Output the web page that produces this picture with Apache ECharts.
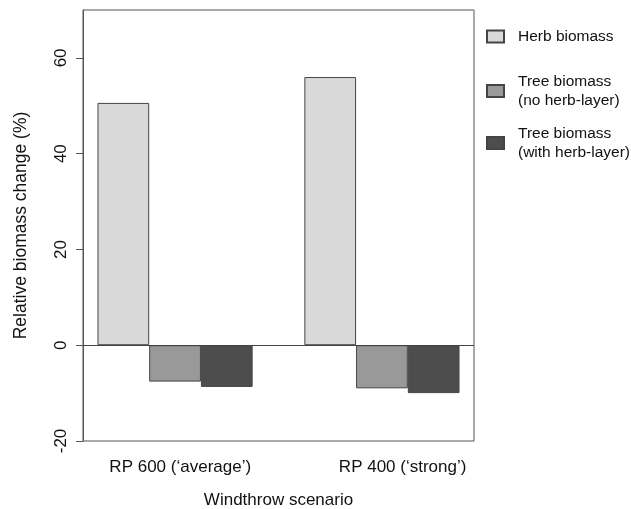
<!DOCTYPE html>
<html>
<head>
<meta charset="utf-8">
<script src="https://cdn.jsdelivr.net/npm/echarts@6/dist/echarts.min.js"></script>
<style>html,body{margin:0;padding:0;background:#fff;}#c{width:631px;height:509px;}</style>
</head>
<body>
<div id="c"></div>
<script>
// Data
const categories = ["RP 600 (\u2018average\u2019)", "RP 400 (\u2018strong\u2019)"];
const seriesNames = ["Herb biomass", "Tree biomass\n(no herb-layer)", "Tree biomass\n(with herb-layer)"];
const herbBiomass = [50.6, 56.0];
const treeNoHerb = [-7.6, -9.0];
const treeWithHerb = [-8.7, -10.0];
const yTicks = [-20, 0, 20, 40, 60];
const categoryLabelPos = [2.6, 6.9];

const FONT = "'Liberation Sans', Arial, Helvetica, sans-serif";
const colors = ['#d9d9d9', '#999999', '#4d4d4d'];
const values = [herbBiomass, treeNoHerb, treeWithHerb];

// R barplot(beside=TRUE) layout: groups of 3 unit-wide bars, 1 unit space between groups
const nSeries = values.length;
const groupStart = g => 1 + g * (nSeries + 1);
const xLo = 1, xHi = groupStart(categories.length - 1) + nSeries;
const pad = 0.04 * (xHi - xLo);
const xMin = xLo - pad, xMax = xHi + pad;

const gridLeft = 83, gridTop = 10, gridW = 391, gridH = 431;
const unitPx = gridW / (xMax - xMin);

const chart = echarts.init(document.getElementById('c'), null, {renderer: 'canvas'});

const series = values.map((vals, s) => ({
  name: seriesNames[s],
  type: 'bar',
  barWidth: unitPx,
  barGap: '-100%',
  itemStyle: {color: colors[s], borderColor: '#444', borderWidth: 1},
  emphasis: {disabled: true},
  data: vals.map((v, g) => [groupStart(g) + s + 0.5, v]),
  markLine: s === 0 ? {
    silent: true, symbol: 'none', animation: false,
    label: {show: false},
    lineStyle: {color: '#444', width: 1, type: 'solid'},
    data: [{yAxis: 0}]
  } : undefined
}));

const legendTops = [27, 72, 124];
const legends = seriesNames.map((n, i) => ({
  data: [n],
  left: 486,
  top: legendTops[i],
  padding: 0,
  orient: 'vertical',
  icon: 'rect',
  itemWidth: 17,
  itemHeight: 12,
  selectedMode: false,
  textStyle: {fontFamily: FONT, fontSize: 15.5, color: '#111', lineHeight: 19, padding: [0, 0, 0, 9]}
}));

chart.setOption({
  animation: false,
  backgroundColor: '#fff',
  textStyle: {fontFamily: FONT},
  grid: {left: gridLeft, top: gridTop, width: gridW, height: gridH, outerBoundsMode: 'none', containLabel: false,
    show: true, borderColor: '#555', borderWidth: 1, backgroundColor: 'transparent'},
  legend: legends,
  xAxis: {
    type: 'value',
    min: xMin, max: xMax,
    name: 'Windthrow scenario',
    nameLocation: 'middle',
    nameGap: 51,
    nameTextStyle: {fontFamily: FONT, fontSize: 17, color: '#111'},
    axisLine: {show: false},
    axisTick: {show: false},
    splitLine: {show: false},
    axisLabel: {
      customValues: categoryLabelPos,
      formatter: (v) => { const i = categoryLabelPos.indexOf(v); return i >= 0 ? categories[i] : ''; },
      fontFamily: FONT, fontSize: 17, color: '#111', margin: 18
    }
  },
  yAxis: {
    type: 'value',
    min: yTicks[0], max: 70, interval: 20,
    name: 'Relative biomass change (%)',
    nameLocation: 'middle',
    nameGap: 53,
    nameTextStyle: {fontFamily: FONT, fontSize: 17.5, color: '#111'},
    axisLine: {show: true, lineStyle: {color: '#555', width: 1}},
    axisTick: {show: true, length: 7, customValues: yTicks, lineStyle: {color: '#555'}},
    splitLine: {show: false},
    axisLabel: {rotate: 90, customValues: yTicks, fontFamily: FONT, fontSize: 17, color: '#111', margin: 13}
  },
  series: series
});
</script>
</body>
</html>
